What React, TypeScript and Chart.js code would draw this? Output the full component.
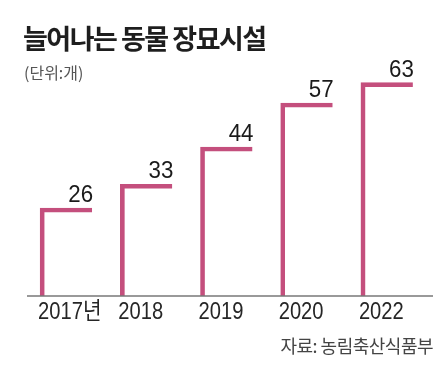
import React, { useEffect, useRef } from 'react';
import { Chart, registerables } from 'chart.js';

Chart.register(...registerables);

const categories = ['2017년', '2018', '2019', '2020', '2022'];
const values = [26, 33, 44, 57, 63];
const titleText = '늘어나는 동물 장묘시설';
const unitText = '(단위:개)';
const sourceText = '자료: 농림축산식품부';

const PINK = '#c44f7d';
const SANS = '"Liberation Sans", Arial, "Noto Sans CJK KR", sans-serif';
const KR = '"Noto Sans CJK KR", "Noto Sans", sans-serif';

const valueLabelPlugin = {
  id: 'valueLabels',
  afterDatasetsDraw(chart: any) {
    const ctx = chart.ctx;
    const meta = chart.getDatasetMeta(0);
    ctx.save();
    ctx.font = `24px ${SANS}`;
    ctx.fillStyle = '#1a1a1a';
    ctx.textAlign = 'right';
    ctx.textBaseline = 'alphabetic';
    meta.data.forEach((bar: any, i: number) => {
      const { x, y, width } = bar.getProps(['x', 'y', 'width'], true);
      ctx.save();
      ctx.translate(x + width / 2 + 1, y - 6);
      ctx.scale(0.93, 1);
      ctx.fillText(String(values[i]), 0, 0);
      ctx.restore();
    });
    ctx.restore();
  },
};

const xLabelPlugin = {
  id: 'xLabels',
  afterDraw(chart: any) {
    const { ctx, chartArea } = chart;
    const xs = chart.scales.x;
    ctx.save();
    ctx.font = `24px ${SANS}`;
    ctx.fillStyle = '#262626';
    ctx.textAlign = 'left';
    ctx.textBaseline = 'alphabetic';
    categories.forEach((lab, i) => {
      const px = xs.getPixelForTick(i);
      ctx.save();
      ctx.translate(px - 28, chartArea.bottom + 23);
      ctx.scale(0.84, 1);
      ctx.fillText(lab, 0, 0);
      ctx.restore();
    });
    ctx.restore();
  },
};

const baselinePlugin = {
  id: 'baseline',
  afterDatasetsDraw(chart: any) {
    const { ctx, chartArea } = chart;
    ctx.save();
    ctx.strokeStyle = '#777';
    ctx.lineWidth = 1.5;
    ctx.beginPath();
    ctx.moveTo(chartArea.left + 1, chartArea.bottom);
    ctx.lineTo(chartArea.right + 6, chartArea.bottom);
    ctx.stroke();
    ctx.restore();
  },
};

export default function App() {
  const ref = useRef<HTMLCanvasElement | null>(null);

  useEffect(() => {
    document.body.style.margin = '0';
    if (!ref.current) return;
    const chart = new Chart(ref.current, {
      type: 'bar',
      data: {
        labels: categories,
        datasets: [
          {
            data: values,
            backgroundColor: 'rgba(0,0,0,0)',
            borderColor: PINK,
            borderWidth: { left: 4, top: 4, right: 0, bottom: 0 },
            borderSkipped: false,
            barThickness: 52,
          },
        ],
      },
      options: {
        animation: false,
        responsive: false,
        maintainAspectRatio: false,
        layout: { padding: { left: 26, right: 20, top: 59, bottom: 43 } },
        plugins: {
          legend: { display: false },
          tooltip: { enabled: false },
        },
        scales: {
          x: {
            grid: { display: false },
            border: { display: false },
            ticks: {
              display: false,
              autoSkip: false,
            },
            afterFit: (s: any) => {
              s.height = 40;
            },
          },
          y: { display: false, min: 0, max: 70 },
        },
      },
      plugins: [baselinePlugin, valueLabelPlugin, xLabelPlugin],
    } as any);
    return () => chart.destroy();
  }, []);

  return (
    <div style={{ position: 'relative', width: 447, height: 379, background: '#fff', overflow: 'hidden' }}>
      <canvas ref={ref} width={447} height={379} style={{ position: 'absolute', left: 0, top: 0, width: 447, height: 379 }} />
      <div
        style={{
          position: 'absolute',
          left: 23,
          top: 21,
          fontFamily: KR,
          fontWeight: 700,
          fontSize: 27,
          letterSpacing: -1.5,
          lineHeight: '34px',
          color: '#1e1e1e',
          whiteSpace: 'nowrap',
        }}
      >
        {titleText}
      </div>
      <div
        style={{
          position: 'absolute',
          left: 24,
          top: 62,
          fontFamily: KR,
          fontSize: 16,
          letterSpacing: 0,
          lineHeight: '20px',
          color: '#555',
          whiteSpace: 'nowrap',
        }}
      >
        {unitText}
      </div>
      <div
        style={{
          position: 'absolute',
          right: 14,
          top: 333,
          fontFamily: KR,
          fontSize: 18,
          letterSpacing: -0.5,
          lineHeight: '24px',
          color: '#444',
          whiteSpace: 'nowrap',
        }}
      >
        {sourceText}
      </div>
    </div>
  );
}
